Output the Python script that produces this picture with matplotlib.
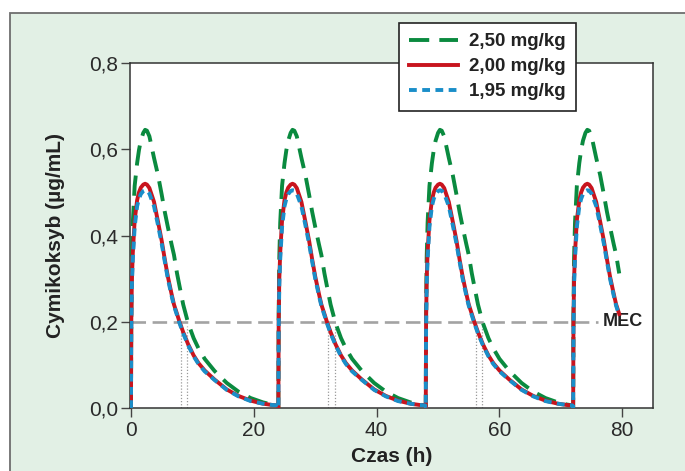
import matplotlib
matplotlib.use("Agg")
import matplotlib.pyplot as plt
from matplotlib.patches import Rectangle
import numpy as np

# ---- data ----
# concentration profile after each dose (hours since dose)
rel_time = [0, 0.05, 0.15, 0.3, 0.6, 1.0, 1.3, 1.6, 2.0, 2.3, 2.6, 3.0, 3.75, 4.4, 5.0,
            5.5, 6.0, 6.6, 7.0, 7.5, 7.9, 8.5, 9.3, 10.2, 11.0, 12.0, 13.6, 15.6, 17.5,
            19.5, 21.5, 23.0, 23.9]
conc_250 = [0.0, 0.22, 0.35, 0.43, 0.515, 0.568, 0.598, 0.62, 0.638, 0.645, 0.643, 0.630,
            0.580, 0.540, 0.495, 0.455, 0.420, 0.380, 0.355, 0.312, 0.283, 0.240, 0.197,
            0.162, 0.138, 0.114, 0.086, 0.058, 0.038, 0.023, 0.013, 0.008, 0.006]
conc_200 = [0.0, 0.20, 0.30, 0.36, 0.435, 0.482, 0.500, 0.511, 0.518, 0.520, 0.518, 0.510,
            0.478, 0.432, 0.388, 0.345, 0.305, 0.265, 0.240, 0.218, 0.200, 0.176, 0.148,
            0.122, 0.104, 0.087, 0.066, 0.043, 0.028, 0.017, 0.010, 0.007, 0.006]
conc_195 = [0.0, 0.18, 0.285, 0.345, 0.42, 0.468, 0.485, 0.496, 0.503, 0.505, 0.504, 0.497,
            0.468, 0.424, 0.381, 0.340, 0.300, 0.261, 0.237, 0.215, 0.197, 0.173, 0.146,
            0.120, 0.102, 0.085, 0.065, 0.042, 0.027, 0.016, 0.010, 0.007, 0.006]
dose_times = [0, 24, 48, 72]
end_time = 79.5
mec_value = 0.2
mec_cross_200 = [8.1, 32.1, 56.1]
mec_cross_250 = [9.2, 33.2, 57.2]
labels = ["2,50 mg/kg", "2,00 mg/kg", "1,95 mg/kg"]
x_ticks = [0, 20, 40, 60, 80]
y_ticks = [0.0, 0.2, 0.4, 0.6, 0.8]
y_tick_labels = ["0,0", "0,2", "0,4", "0,6", "0,8"]


def build(profile):
    t_all, c_all = [], []
    for d in dose_times:
        for r, c in zip(rel_time, profile):
            if d + r <= end_time:
                t_all.append(d + r)
                c_all.append(c)
    return t_all, c_all


W, H = 685, 471
fig = plt.figure(figsize=(W / 100, H / 100), dpi=100)
fig.patch.set_facecolor("white")
fig.add_artist(Rectangle((10 / W, -0.05), 1.2, 1 - 13 / H + 0.05, transform=fig.transFigure,
                         facecolor="#e2f0e5", edgecolor="#6e6e6e", lw=1.3, zorder=-10))

ax = fig.add_axes([130 / W, 1 - 408 / H, (653 - 130) / W, (408 - 63) / H])
ax.set_facecolor("white")

narrow = ["Liberation Sans Narrow", "Liberation Sans", "DejaVu Sans"]
bold = ["Liberation Sans", "DejaVu Sans"]

# MEC line and dotted markers
ax.plot([0, 76.0], [mec_value, mec_value], color="#a3a3a3", lw=1.9,
        linestyle=(0, (5.5, 2.5)), zorder=1)
ax.text(76.8, mec_value, "MEC", fontsize=13, fontweight="bold", family=bold,
        color="#222222", ha="left", va="center")
for xv in mec_cross_200 + mec_cross_250:
    ax.plot([xv, xv], [0, 0.19], color="#9a9a9a", lw=0.9, linestyle=(0, (1, 1.5)), zorder=1)

t, c = build(conc_250)
l1, = ax.plot(t, c, color="#0a8a3f", lw=2.8, linestyle=(0, (5.2, 2.6)), label=labels[0], zorder=3)
t, c = build(conc_200)
l2, = ax.plot(t, c, color="#c8141e", lw=2.8, label=labels[1], zorder=4)
t, c = build(conc_195)
l3, = ax.plot(t, c, color="#1a8ec9", lw=2.8, linestyle=(0, (2.0, 1.4)), label=labels[2], zorder=5)

ax.set_xlim(-0.16, 85.0)
ax.set_ylim(0, 0.8)
ax.set_xticks(x_ticks)
ax.set_yticks(y_ticks)
ax.set_yticklabels(y_tick_labels)
for lab in ax.get_xticklabels() + ax.get_yticklabels():
    lab.set_family(narrow)
    lab.set_fontsize(15)
    lab.set_color("#2a2a2a")
ax.tick_params(axis="both", direction="out", length=6.5, width=1.0, color="#444444")
ax.tick_params(axis="x", pad=3)
ax.tick_params(axis="y", pad=2)
for s in ax.spines.values():
    s.set_color("#333333")
    s.set_linewidth(1.1)

ax.set_xlabel("Czas (h)", fontsize=15, fontweight="bold", family=bold, color="#222222", labelpad=5)
ax.set_ylabel("Cymikoksyb (µg/mL)", fontsize=15, fontweight="bold", family=bold,
              color="#222222", labelpad=17)

leg = fig.legend(handles=[l1, l2, l3], loc="upper left",
                 bbox_to_anchor=(399 / W, 1 - 23 / H), bbox_transform=fig.transFigure,
                 prop={"family": bold, "weight": "bold", "size": 13.5},
                 frameon=True, fancybox=False, framealpha=1, edgecolor="#222222",
                 handlelength=2.6, handletextpad=0.6, labelspacing=0.42,
                 borderpad=0.55, borderaxespad=0)
leg.get_frame().set_linewidth(1.2)
for txt in leg.get_texts():
    txt.set_color("#222222")

fig.savefig("out.png", dpi=100)
